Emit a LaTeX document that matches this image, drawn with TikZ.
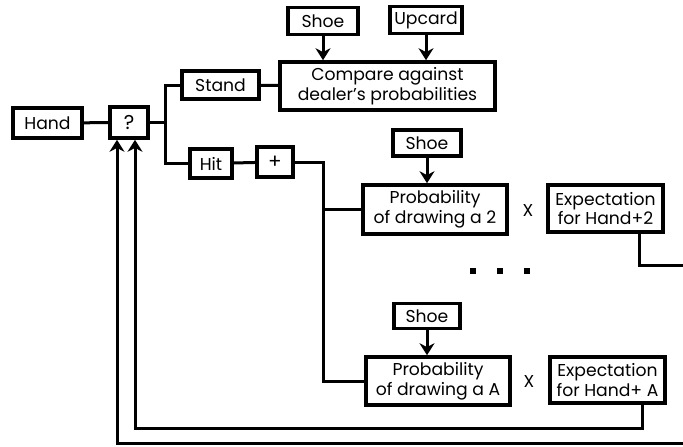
\documentclass[tikz,border=0pt]{standalone}
\usepackage{fontspec}
\setmainfont{Poppins}
\usepackage{tikz}
\usetikzlibrary{arrows.meta,positioning,calc}

\tikzset{
  box/.style={draw, line width=1.8pt, inner sep=0pt, align=center, font=\fontsize{8.6}{9.8}\selectfont},
  link/.style={line width=1.5pt},
  feed/.style={line width=1.5pt, -{Stealth[length=6pt,width=7.5pt]}},
  dotmark/.style={fill, inner sep=0pt, minimum size=2.8pt}
}

\begin{document}
\begin{tikzpicture}[x=0.5pt, y=-0.5pt, >=Stealth]
  \useasboundingbox (0,0) rectangle (683,446);

  \node[box, minimum width=34.5pt, minimum height=15pt] (hand) at (47.5,123) {Hand};
  \node[box, minimum width=19pt, minimum height=15.5pt, font=\fontsize{10}{11}\selectfont] (q) at (129,122.5) {?};
  \node[box, minimum width=38.5pt, minimum height=14pt] (stand) at (220.5,85) {Stand};
  \node[box, minimum width=107.5pt, minimum height=24pt] (compare) at (387.5,86) {Compare against\\dealer's probabilities};
  \node[box, minimum width=35pt, minimum height=13.5pt] (shoetop) at (323,21) {Shoe};
  \node[box, minimum width=36pt, minimum height=13.5pt] (upcard) at (426,20) {Upcard};
  \node[box, minimum width=21pt, minimum height=14.5pt] (hit) at (211,163.5) {Hit};
  \node[box, minimum width=18pt, minimum height=15pt, font=\fontsize{10}{11}\selectfont] (plus) at (275,162) {+};

  \node[box, minimum width=34pt, minimum height=13pt] (shoetwo) at (427,143) {Shoe};
  \node[box, minimum width=72pt, minimum height=24.5pt] (probtwo) at (435,209.5) {Probability\\of drawing a 2};
  \node[box, minimum width=57.5pt, minimum height=23.5pt] (exptwo) at (605.5,208.5) {Expectation\\for Hand+2};
  \node[font=\fontsize{8.6}{9.8}\selectfont] (xtwo) at (528,210) {X};

  \node[dotmark] (dota) at (473,271) {};
  \node[dotmark] (dotb) at (500,271) {};
  \node[dotmark] (dotc) at (527,271) {};

  \node[box, minimum width=33pt, minimum height=12.5pt] (shoeace) at (427,316) {Shoe};
  \node[box, minimum width=72pt, minimum height=24pt] (probace) at (438,381) {Probability\\of drawing a A};
  \node[box, minimum width=57.5pt, minimum height=23pt] (expace) at (607.5,380) {Expectation\\for Hand+ A};
  \node[font=\fontsize{8.6}{9.8}\selectfont] (xace) at (529,381) {X};

  \coordinate (split) at (165,122.5);
  \coordinate (fork) at (323,162);
  \coordinate (outtwo) at (683,265);
  \coordinate (outbot) at (683,443);
  \coordinate (outer) at (117,443);
  \coordinate (inner) at (135,428);

  \draw[link] (hand) -- (q);
  \draw[link] (q) -- (split);
  \draw[link] (split) |- (stand);
  \draw[link] (split) |- (hit);
  \draw[link] (stand) -- (compare);
  \draw[link] (hit) -- (plus);
  \draw[link] (plus) -- (fork) |- (probtwo);
  \draw[link] (fork) |- (probace);

  \draw[feed] (shoetop) -- (shoetop |- compare.north);
  \draw[feed] (upcard) -- (upcard |- compare.north);
  \draw[feed] (shoetwo) -- (shoetwo |- probtwo.north);
  \draw[feed] (shoeace) -- (shoeace |- probace.north);

  \draw[link] ([xshift=17pt]exptwo.south) |- (outtwo);
  \draw[feed] ([xshift=17.5pt]expace.south) |- (inner) -- (inner |- q.south);
  \draw[feed] (outbot) -- (outer) -- (outer |- q.south);
\end{tikzpicture}
\end{document}
